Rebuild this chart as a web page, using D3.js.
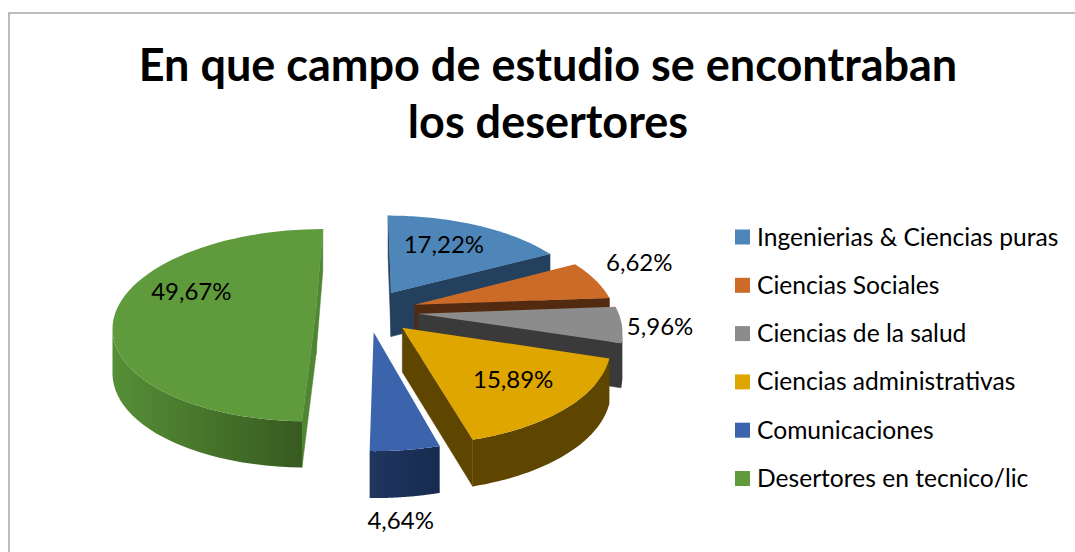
<!DOCTYPE html>
<html>
<head>
<meta charset="utf-8">
<script src="https://cdn.jsdelivr.net/npm/d3@7"></script>
<style>
  html, body { margin: 0; padding: 0; background: #fff; }
  svg { display: block; font-family: Lato, "Open Sans", sans-serif; }
</style>
</head>
<body>
<svg id="chart" width="1075" height="552"></svg>
<script>
var categories = ["Ingenierias & Ciencias puras", "Ciencias Sociales", "Ciencias de la salud", "Ciencias administrativas", "Comunicaciones", "Desertores en tecnico/lic"]
var values = [17.22, 6.62, 5.96, 15.89, 4.64, 49.67]
var titleLines = ["En que campo de estudio se encontraban", "los desertores"]

var colors = ["#4e86b9", "#cc6b27", "#8c8c8c", "#dfa600", "#3b64ad", "#5f9a3c"]
var sideColors = ["#23405f", "#522a10", "#3a3a3a", "#5e4500", "#1f3460", "#4f8533"]
var wallFrom = ["#23405f", "#522a10", "#3a3a3a", "#5e4500", "#20365f", "#568f37"]
var wallTo = ["#23405f", "#522a10", "#3a3a3a", "#5e4500", "#172b50", "#375a20"]

// how far each slice is pulled out, in pie radii
var explodes = [0.23, 0.245, 0.25, 0.24, 0.22, 0.26]
// where each data label sits, in pie radii and degrees off the slice middle
var labelRadius = [0.675, 1.335, 1.185, 0.68, 1.45, 0.69]
var labelShift = [-4, -6, -0.5, -1.8, 3.4, 18.2]

var svg = d3.select("#chart")

// chart frame
var frame = {left: 9, top: 13, right: 1075, bottom: 552}
svg.append("path")
   .attr("d", `M${frame.left},${frame.bottom}V${frame.top}H${frame.right}`)
   .attr("fill", "none")
   .attr("stroke", "#a6a6a6")
   .attr("stroke-width", 1.5)

svg.append("g")
   .selectAll("text")
   .data(titleLines)
   .join("text")
   .attr("x", 548)
   .attr("y", (d, i) => 81 + i * 57)
   .attr("text-anchor", "middle")
   .attr("font-size", 45)
   .attr("font-weight", "bold")
   .attr("fill", "#000")
   .text(d => d)

// pie geometry, the perspective is a simple divide on the depth axis
var cx = 368, cy = 311, Rx = 200, Ry = 94, persp = 0.15, depth = 44

function project(px, py, z) {
    var s = 1 / (1 - persp * py)
    return [cx + Rx * px * s, cy + Ry * py * s + (z || 0) * (0.7 + 0.3 * s)]
}

var pie = d3.pie().sort(null)
            .startAngle(0)
            .endAngle(2 * Math.PI)
var arcs = pie(values)

var defs = svg.append("defs")
arcs.forEach((d, i) => {
    var grad = defs.append("linearGradient")
                   .attr("id", "wall" + i)
                   .attr("x1", 0).attr("x2", 1).attr("y1", 0).attr("y2", 0)
    grad.append("stop").attr("offset", 0).attr("stop-color", wallFrom[i])
    grad.append("stop").attr("offset", 1).attr("stop-color", wallTo[i])
})

var line = d3.line()

// back slices first, the green one does not touch anything
var slices = svg.append("g")

arcs.forEach((d, i) => {
    var mid = (d.startAngle + d.endAngle) / 2
    var ex = explodes[i] * Math.sin(mid), ey = -explodes[i] * Math.cos(mid)
    var g = slices.append("g")

    var angles = d3.range(0, 61).map(t => d.startAngle + (d.endAngle - d.startAngle) * t / 60)
    var rim = angles.map(a => [ex + Math.sin(a), ey - Math.cos(a)])
    var apex = [ex, ey]

    var quad = (a, b) => [project(a[0], a[1]), project(b[0], b[1]), project(b[0], b[1], depth), project(a[0], a[1], depth)]

    // flat faces, only those that look at the camera
    var walls = [quad(apex, rim[0]), quad(rim[60], apex)]
    walls.forEach(w => {
        if (d3.polygonArea(w) > 0) {
            g.append("path").attr("d", line(w) + "Z")
             .attr("fill", sideColors[i]).attr("stroke", sideColors[i]).attr("stroke-width", 0.5)
        }
    })

    // outer wall
    var front = d3.range(0, 60).filter(k => d3.polygonArea(quad(rim[k], rim[k + 1])) > 0)
    if (front.length) {
        var from = front[0], to = front[front.length - 1] + 1
        var top = rim.slice(from, to + 1).map(p => project(p[0], p[1]))
        var bottom = rim.slice(from, to + 1).map(p => project(p[0], p[1], depth)).reverse()
        g.append("path").attr("d", line(top.concat(bottom)) + "Z")
         .attr("fill", `url(#wall${i})`)
    }

    // top face
    var face = [apex].concat(rim).map(p => project(p[0], p[1]))
    g.append("path").attr("d", line(face) + "Z").attr("fill", colors[i])
})

// data labels
svg.append("g")
   .selectAll("text")
   .data(arcs)
   .join("text")
   .attr("x", (d, i) => labelPoint(d, i)[0])
   .attr("y", (d, i) => labelPoint(d, i)[1])
   .attr("text-anchor", "middle")
   .attr("dominant-baseline", "central")
   .attr("font-size", 24)
   .attr("fill", "#000")
   .text(d => d.value.toFixed(2).replace(".", ",") + "%")

function labelPoint(d, i) {
    var mid = (d.startAngle + d.endAngle) / 2
    var a = mid + labelShift[i] * Math.PI / 180
    return project(explodes[i] * Math.sin(mid) + labelRadius[i] * Math.sin(a),
                   -explodes[i] * Math.cos(mid) - labelRadius[i] * Math.cos(a))
}

// legend
var legendY = d3.scalePoint().domain(categories).range([237, 478.5])
var legend = svg.append("g")
                .selectAll("g")
                .data(categories)
                .join("g")
                .attr("transform", d => `translate(735, ${legendY(d)})`)
legend.append("rect")
      .attr("x", 0).attr("y", -7.5)
      .attr("width", 15).attr("height", 15)
      .attr("fill", (d, i) => colors[i])
legend.append("text")
      .attr("x", 22)
      .attr("y", -1)
      .attr("dominant-baseline", "central")
      .attr("font-size", 24.6)
      .attr("fill", "#000")
      .text(d => d)
</script>
</body>
</html>
